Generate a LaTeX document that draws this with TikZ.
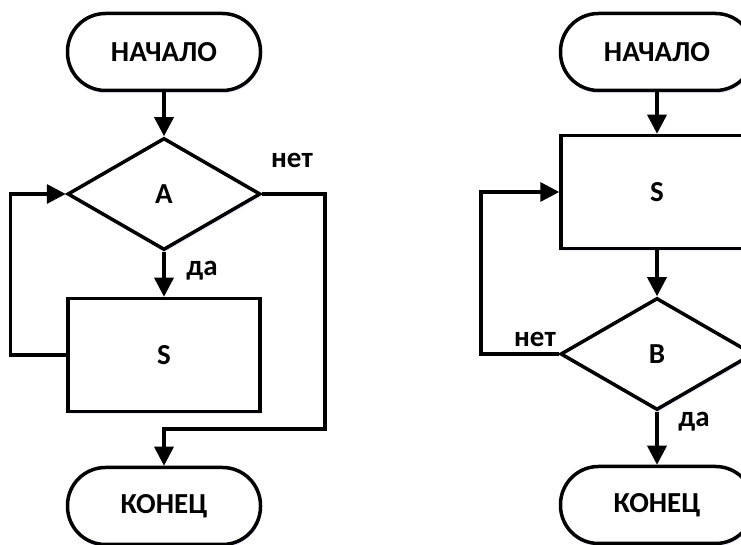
\documentclass[tikz,border=0pt]{standalone}
\usepackage{fontspec}
\setmainfont{Carlito}
\usetikzlibrary{arrows.meta,shapes.geometric,shadows}

\tikzset{
   soft/.style={drop shadow={shadow xshift=1pt,shadow yshift=-3pt,fill=blue!20,opacity=.35}},
   term/.style={draw,soft,fill=white,rounded corners=38pt,minimum width=193pt,minimum height=77pt},
   block/.style={draw,soft,fill=white,minimum width=192pt,minimum height=113pt},
   cond/.style={draw,soft,fill=white,diamond,inner sep=0pt,minimum width=193pt,minimum height=112pt}
}

\begin{document}
\begin{tikzpicture}[x=1pt,y=1pt,line width=3.5pt,
   font=\fontsize{29}{34}\selectfont\bfseries,
   >={Triangle[length=19pt,width=19pt]}]
 
   \useasboundingbox (0,0) rectangle (741,545);
   \clip (0,0) rectangle (741,545);
 
   % first chart
   \node[term]  (beg1) at (164,493) {НАЧАЛО};
   \node[cond]  (A)    at (164,351) {A};
   \node[block] (S1)   at (164,190) {S};
   \node[term]  (end1) at (164,39)  {КОНЕЦ};
   \path (325,116) coordinate (R1);
 
   \draw[->] (beg1) -- (A);
   \draw[->] (A) -- (S1);
   \draw[->] (S1.west) -- ++(-56,0) |- (A.west);
   \draw[->] (A.east) -| (R1) -| (end1.north);
 
   \node (no1)  at (292,385) {нет};
   \node (yes1) at (202,274) {да};
 
   % second chart
   \node[term]  (beg2) at (657,493) {НАЧАЛО};
   \node[block] (S2)   at (657,353) {S};
   \node[cond]  (B)    at (657,191) {B};
   \node[term]  (end2) at (657,40)  {КОНЕЦ};
 
   \draw[->] (beg2) -- (S2);
   \draw[->] (S2) -- (B);
   \draw[->] (B) -- (end2);
   \draw[->] (B.west) -- ++(-78,0) |- (S2.west);
 
   \node (no2)  at (535,206) {нет};
   \node (yes2) at (694,123) {да};
\end{tikzpicture}
\end{document}
